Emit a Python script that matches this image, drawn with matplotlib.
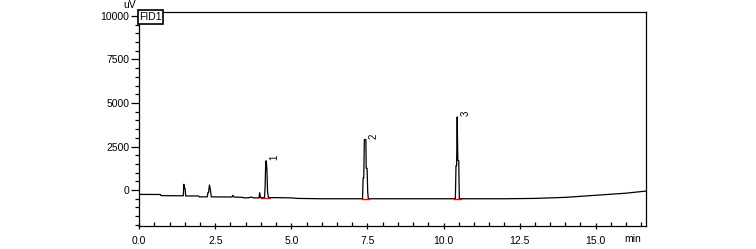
import matplotlib.pyplot as plt
from matplotlib.ticker import MultipleLocator

# chromatogram trace (min, uV)
time = [0.0, 0.70, 0.72, 1.45, 1.47, 1.49, 1.51, 1.53, 1.95, 1.97, 2.24, 2.26, 2.28,
        2.31, 2.34, 2.37, 3.05, 3.08, 3.11, 3.40, 3.45, 3.60, 3.70, 3.75, 3.94,
        3.96, 3.99, 4.12, 4.14, 4.16, 4.18, 4.20, 4.22, 4.25, 5.0, 5.2, 6.0,
        7.34, 7.36, 7.38, 7.40, 7.45, 7.46, 7.49, 7.51, 7.53, 10.39, 10.41,
        10.43, 10.45, 10.47, 10.50, 10.52, 12.0, 13.0, 14.0, 15.0, 16.0, 16.64]
signal = [-250, -255, -320, -330, 330, 100, 100, -340, -340, -390, -390, -150, -150,
          290, 50, -390, -400, -300, -400, -420, -450, -440, -400, -450, -450,
          -150, -440, -430, 200, 1670, 1670, 1100, -100, -430, -450, -480, -500,
          -500, 700, 700, 2900, 2900, 1250, 1250, -100, -500, -500, 1400,
          1400, 4200, 1700, 1700, -500, -500, -480, -420, -300, -180, -60]

peak_ids = ["1", "2", "3"]
peak_times = [4.17, 7.42, 10.46]
peak_heights = [1670, 2900, 4200]
peak_starts = [4.00, 7.31, 10.34]
peak_ends = [4.30, 7.55, 10.57]
peak_base = [-440, -500, -500]

plt.rcParams['font.family'] = ['Liberation Sans', 'DejaVu Sans']

fig = plt.figure(figsize=(7.56, 2.49), dpi=100)
ax = fig.add_axes([0.184, 0.092, 0.67, 0.860])

ax.plot(time, signal, color="black", lw=0.9)
for i in range(len(peak_ids)):
    ax.plot([peak_starts[i], peak_ends[i]], [peak_base[i], peak_base[i]], color="red", lw=1.0)
    ax.text(peak_times[i] + 0.12, peak_heights[i] + 50, peak_ids[i], rotation=90,
            fontsize=7, ha="left", va="bottom")

ax.set_xlim(0, 16.64)
ax.set_ylim(-2070, 10230)
ax.set_xticks([0, 2.5, 5, 7.5, 10, 12.5, 15])
ax.set_xticklabels(["0.0", "2.5", "5.0", "7.5", "10.0", "12.5", "15.0"])
ax.set_yticks([0, 2500, 5000, 7500, 10000])
ax.xaxis.set_minor_locator(MultipleLocator(0.5))
ax.yaxis.set_minor_locator(MultipleLocator(500))
ax.tick_params(axis="both", which="major", labelsize=7.5, width=0.9, colors="black")
ax.tick_params(axis="y", which="major", length=6, direction="out", pad=1)
ax.tick_params(axis="y", which="minor", length=3, direction="out", width=0.9)
ax.tick_params(axis="x", which="major", length=4, direction="inout", pad=5)
ax.tick_params(axis="x", which="minor", length=3, direction="in", width=0.9)
for s in ax.spines.values():
    s.set_linewidth(0.9)

ax.text(0.0, 1.0, "FID1", transform=ax.transAxes, fontsize=7.5, ha="left", va="top",
        bbox=dict(boxstyle="square,pad=0.15", fc="white", ec="black", lw=1.2))
fig.text(130 / 756, 1 - 5 / 249, "uV", fontsize=7.5, ha="center", va="center")
fig.text(633 / 756, 1 - 239 / 249, "min", fontsize=7.5, ha="center", va="center")

fig.savefig("out.png", dpi=100)
